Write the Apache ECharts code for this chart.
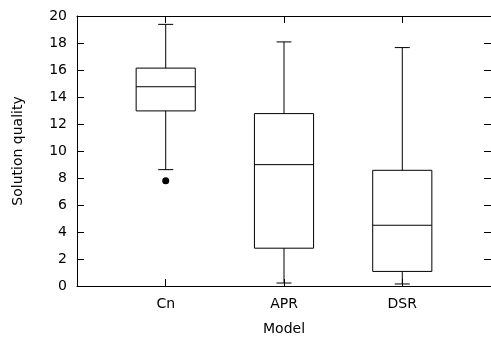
<!DOCTYPE html>
<html>
<head>
<meta charset="utf-8">
<script src="https://cdn.jsdelivr.net/npm/echarts@6/dist/echarts.min.js"></script>
<style>html,body{margin:0;padding:0;background:#fff;}#c{width:491px;height:341px;}</style>
</head>
<body>
<div id="c"></div>
<script>
const categories = ['Cn', 'APR', 'DSR'];
const whiskerLow = [8.62, 0.22, 0.15];
const q1 = [12.97, 2.8, 1.08];
const median = [14.76, 8.99, 4.5];
const q3 = [16.14, 12.77, 8.57];
const whiskerHigh = [19.38, 18.08, 17.66];
const outliers = [[0, 7.79]];
const yTicks = [0, 2, 4, 6, 8, 10, 12, 14, 16, 18, 20];

const FONT = 'DejaVu Sans';
const positions = categories.map((c, i) => i + 1);
const boxData = categories.map((c, i) => [i + 1, whiskerLow[i], q1[i], median[i], q3[i], whiskerHigh[i]]);
const outlierData = outliers.map(o => [o[0] + 1, o[1]]);

const chart = echarts.init(document.getElementById('c'));
const lineStyle = { stroke: '#000', lineWidth: 1, fill: null };

function xAxisDef(pos, showLabel) {
  return {
    type: 'value', position: pos, min: 0.25, max: 3.75,
    axisLine: { show: true, onZero: false, lineStyle: { color: '#000', width: 1 } },
    axisTick: { show: true, inside: true, length: 7, customValues: positions, lineStyle: { color: '#000' } },
    axisLabel: {
      show: showLabel, customValues: positions, margin: 11,
      color: '#000', fontFamily: FONT, fontSize: 14,
      formatter: v => categories[Math.round(v) - 1] || ''
    },
    splitLine: { show: false },
    name: showLabel ? 'Model' : '', nameLocation: 'middle', nameGap: 36,
    nameTextStyle: { color: '#000', fontFamily: FONT, fontSize: 14 }
  };
}
function yAxisDef(pos, showLabel) {
  return {
    type: 'value', position: pos, min: 0, max: 20, interval: 2,
    axisLine: { show: true, onZero: false, lineStyle: { color: '#000', width: 1 } },
    axisTick: { show: true, inside: true, length: 7, lineStyle: { color: '#000' } },
    axisLabel: { show: showLabel, margin: 10, color: '#000', fontFamily: FONT, fontSize: 14 },
    splitLine: { show: false },
    name: showLabel ? 'Solution quality' : '', nameLocation: 'middle', nameGap: 52, nameRotate: 90,
    nameTextStyle: { color: '#000', fontFamily: FONT, fontSize: 14 }
  };
}

chart.setOption({
  animation: false,
  backgroundColor: '#fff',
  grid: { left: 77, right: -2, top: 16, bottom: 54, containLabel: false },
  xAxis: [xAxisDef('bottom', true), xAxisDef('top', false)],
  yAxis: [yAxisDef('left', true), yAxisDef('right', false)],
  series: [
    {
      type: 'custom',
      xAxisIndex: 0, yAxisIndex: 0,
      data: boxData,
      renderItem: function (params, api) {
        const x = api.value(0);
        const lo = api.coord([x, api.value(1)]);
        const b1 = api.coord([x, api.value(2)]);
        const md = api.coord([x, api.value(3)]);
        const b3 = api.coord([x, api.value(4)]);
        const hi = api.coord([x, api.value(5)]);
        const left = api.coord([x - 0.25, 0])[0];
        const right = api.coord([x + 0.25, 0])[0];
        const cx = lo[0];
        const cap = 7.5;
        return {
          type: 'group',
          children: [
            { type: 'line', shape: { x1: cx, y1: lo[1], x2: cx, y2: b1[1] }, style: lineStyle },
            { type: 'line', shape: { x1: cx, y1: b3[1], x2: cx, y2: hi[1] }, style: lineStyle },
            { type: 'line', shape: { x1: cx - cap, y1: lo[1], x2: cx + cap, y2: lo[1] }, style: lineStyle },
            { type: 'line', shape: { x1: cx - cap, y1: hi[1], x2: cx + cap, y2: hi[1] }, style: lineStyle },
            { type: 'rect', shape: { x: left, y: b3[1], width: right - left, height: b1[1] - b3[1] }, style: { stroke: '#000', lineWidth: 1, fill: 'none' } },
            { type: 'line', shape: { x1: left, y1: md[1], x2: right, y2: md[1] }, style: lineStyle }
          ]
        };
      }
    },
    {
      type: 'scatter',
      xAxisIndex: 0, yAxisIndex: 0,
      data: outlierData,
      symbol: 'circle', symbolSize: 7,
      itemStyle: { color: '#000', opacity: 1 }
    }
  ]
});
</script>
</body>
</html>
